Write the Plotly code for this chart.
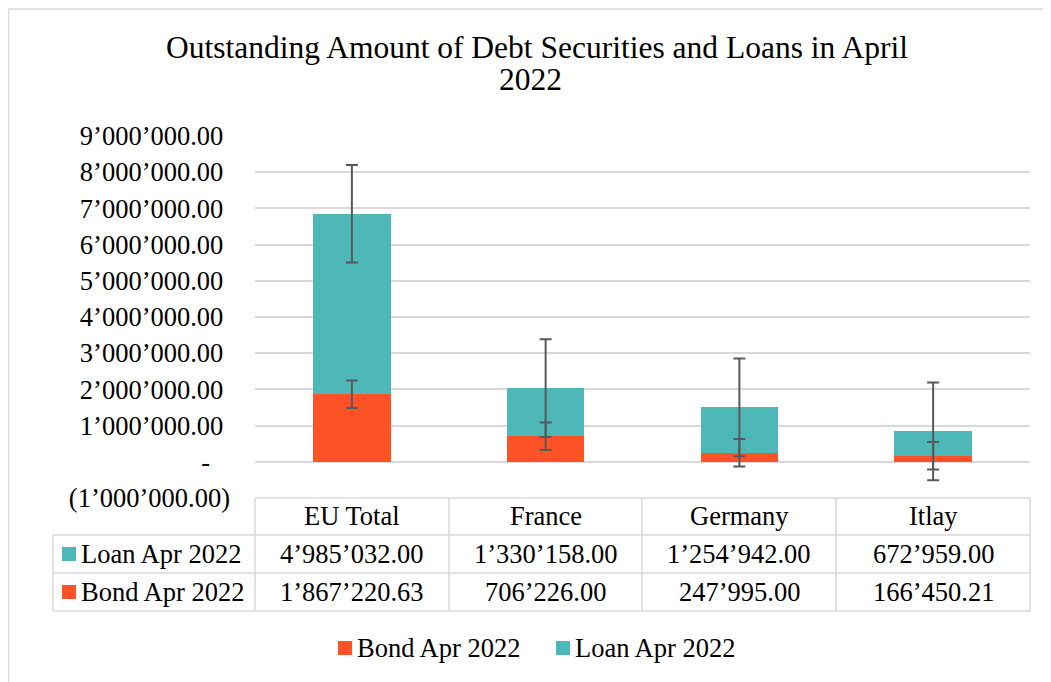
import plotly.graph_objects as go

# ---------------- data ----------------
categories = ["EU Total", "France", "Germany", "Itlay"]
bond_apr_2022 = [1867220.63, 706226.00, 247995.00, 166450.21]
loan_apr_2022 = [4985032.00, 1330158.00, 1254942.00, 672959.00]
bond_error = [380000, 380000, 380000, 380000]
loan_error = [1350000, 1350000, 1350000, 1350000]
y_tick_values = [-1000000, 0, 1000000, 2000000, 3000000, 4000000,
                 5000000, 6000000, 7000000, 8000000, 9000000]
title_line1 = "Outstanding Amount of Debt Securities and Loans in April"
title_line2 = "2022"
bond_name = "Bond Apr 2022"
loan_name = "Loan Apr 2022"

BOND_COLOR = "#FF5226"
LOAN_COLOR = "#4EB7B7"
GRID = "#D9D9D9"
ERR = "#595959"
FONT = "Liberation Serif"
FS = 26.5

OFF = 8  # page body margin
W, H = 1051 - OFF, 682 - OFF
# plot area in screenshot pixels: x 255..1030, y 136..498
L, R, T, B = 255 - OFF, W - (1030 - OFF), 136 - OFF, H - (498 - OFF)
PW, PH = W - L - R, H - T - B


def X(px):
    return (px - OFF - L) / PW


def Y(py):
    return (H - B - (py - OFF)) / PH


def fmt(v):
    return f"{abs(v):,.2f}".replace(",", "\u2019")


def tick_label(v):
    if v == 0:
        return "-\u00a0\u00a0\u00a0"
    if v < 0:
        return "(" + fmt(v) + ")"
    return fmt(v) + "\u00a0"


fig = go.Figure()
fig.add_trace(go.Bar(x=categories, y=bond_apr_2022, name=bond_name,
                     marker=dict(color=BOND_COLOR, line=dict(width=0)),
                     showlegend=False))
fig.add_trace(go.Bar(x=categories, y=loan_apr_2022, name=loan_name,
                     marker=dict(color=LOAN_COLOR, line=dict(width=0)),
                     showlegend=False))

# error bars drawn on top of both stacked segments
bond_tops = list(bond_apr_2022)
loan_tops = [b + l for b, l in zip(bond_apr_2022, loan_apr_2022)]
for tops, errs in ((bond_tops, bond_error), (loan_tops, loan_error)):
    fig.add_trace(go.Scatter(
        x=categories, y=tops, mode="markers",
        marker=dict(opacity=0, size=1),
        error_y=dict(type="data", array=errs, visible=True,
                     color=ERR, thickness=2, width=6),
        showlegend=False, hoverinfo="skip"))

shapes = []
line = dict(color=GRID, width=1.5)


def hline(x0, x1, y):
    shapes.append(dict(type="line", xref="paper", yref="paper",
                       x0=X(x0), x1=X(x1), y0=Y(y), y1=Y(y), line=line))


def vline(x, y0, y1):
    shapes.append(dict(type="line", xref="paper", yref="paper",
                       x0=X(x), x1=X(x), y0=Y(y0), y1=Y(y1), line=line))


# outer chart border (cropped at right / bottom)
hline(8.5, 1060, 9)
vline(8.5, 9, 700)

# data table
col_edges = [255, 449, 642, 836, 1030]
hline(255, 1030, 498)
for yy in (535, 573, 611):
    hline(53, 1030, yy)
vline(53, 535, 611)
for xx in col_edges:
    vline(xx, 498, 611)

annotations = []


def text(x, y, s, size=FS, xanchor="center"):
    annotations.append(dict(xref="paper", yref="paper", x=X(x), y=Y(y), text=s,
                            showarrow=False, xanchor=xanchor, yanchor="middle",
                            font=dict(family=FONT, size=size, color="#000000")))


def key(x, y, color):
    shapes.append(dict(type="rect", xref="paper", yref="paper",
                       x0=X(x), x1=X(x + 14), y0=Y(y - 7), y1=Y(y + 7),
                       fillcolor=color, line=dict(width=0)))


row_y = {"hdr": 516, "loan": 554, "bond": 592}
for i, cat in enumerate(categories):
    cx = (col_edges[i] + col_edges[i + 1]) / 2
    text(cx, row_y["hdr"], cat)
    text(cx, row_y["loan"], fmt(loan_apr_2022[i]))
    text(cx, row_y["bond"], fmt(bond_apr_2022[i]))

key(62, row_y["loan"], LOAN_COLOR)
text(79, row_y["loan"], loan_name, xanchor="left")
key(62, row_y["bond"], BOND_COLOR)
text(79, row_y["bond"], bond_name, xanchor="left")

# bottom legend
key(338, 648, BOND_COLOR)
text(355, 648, bond_name, xanchor="left")
key(556, 648, LOAN_COLOR)
text(573, 648, loan_name, xanchor="left")

# title (two lines)
text(537, 47, title_line1, size=31.5)
text(530, 79, title_line2, size=31.5)

fig.update_layout(
    width=W, height=H,
    margin=dict(l=L, r=R, t=T, b=B),
    paper_bgcolor="white", plot_bgcolor="white",
    barmode="stack", bargap=0.6,
    font=dict(family=FONT, size=FS, color="#000000"),
    shapes=shapes, annotations=annotations,
    showlegend=False,
    xaxis=dict(showticklabels=False, showgrid=False, zeroline=False,
               showline=False, range=[-0.5, 3.5], fixedrange=True),
    yaxis=dict(range=[-1000000, 9000000], tickvals=y_tick_values,
               ticktext=[tick_label(v) for v in y_tick_values],
               showgrid=True, gridcolor=GRID, gridwidth=1.5,
               zeroline=True, zerolinecolor=GRID, zerolinewidth=1.5,
               showline=False, ticks="", ticklabelstandoff=24,
               tickfont=dict(family=FONT, size=FS, color="#000000")),
)

fig.write_html("out.html")
